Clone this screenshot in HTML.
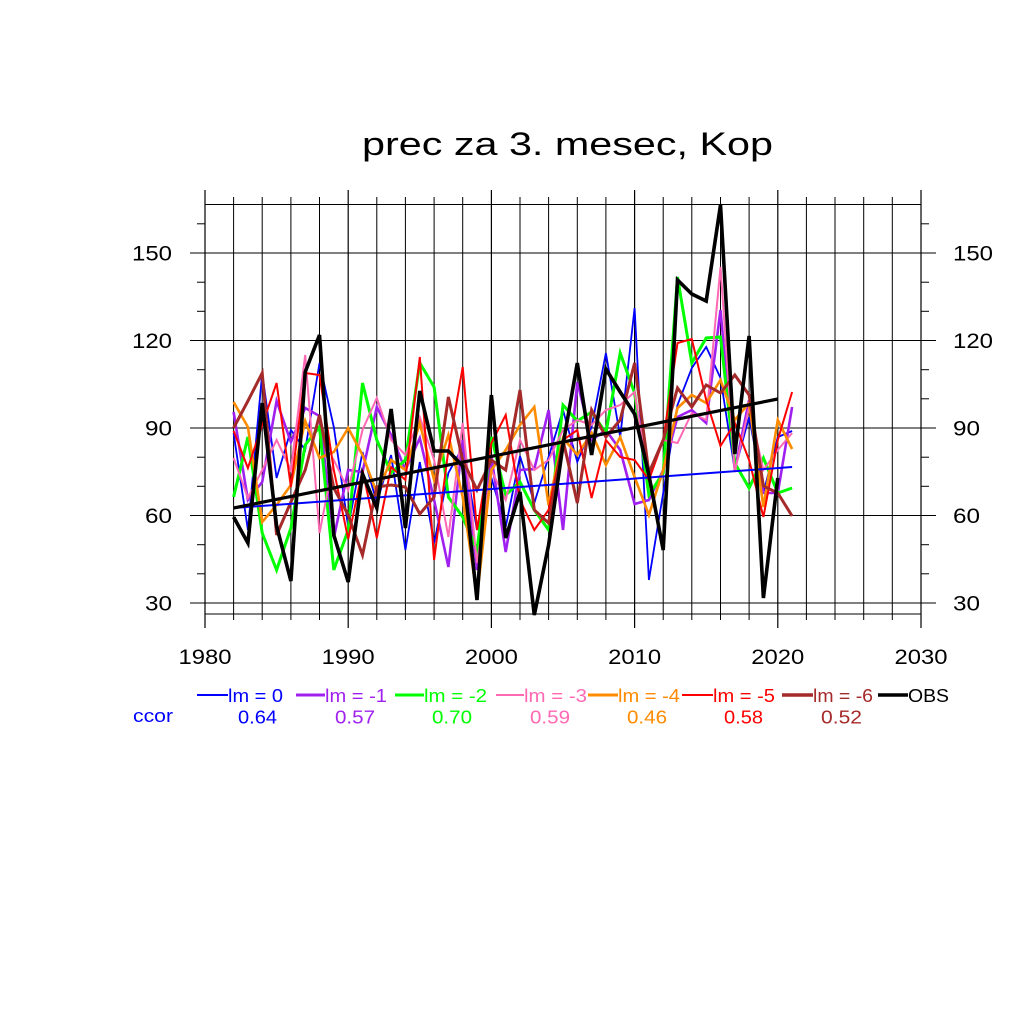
<!DOCTYPE html>
<html>
<head>
<meta charset="utf-8">
<style>
html,body{margin:0;padding:0;background:#fff;}
svg{display:block;}
text{font-family:"Liberation Sans",Arial,sans-serif;}
</style>
</head>
<body>
<svg width="1024" height="1024" viewBox="0 0 1024 1024" xmlns="http://www.w3.org/2000/svg">
<rect width="1024" height="1024" fill="#fff"/>

<!-- Title -->
<text x="362" y="155" font-size="32.5" textLength="411" lengthAdjust="spacingAndGlyphs" fill="#000">prec za 3. mesec, Kop</text>

<!-- minor vertical grid lines -->
<g stroke="#000" stroke-width="1" fill="none">
<line x1="233.6" y1="197" x2="233.6" y2="620"/>
<line x1="262.2" y1="197" x2="262.2" y2="620"/>
<line x1="290.9" y1="197" x2="290.9" y2="620"/>
<line x1="319.5" y1="197" x2="319.5" y2="620"/>
<line x1="376.8" y1="197" x2="376.8" y2="620"/>
<line x1="405.4" y1="197" x2="405.4" y2="620"/>
<line x1="434.1" y1="197" x2="434.1" y2="620"/>
<line x1="462.7" y1="197" x2="462.7" y2="620"/>
<line x1="520.0" y1="197" x2="520.0" y2="620"/>
<line x1="548.6" y1="197" x2="548.6" y2="620"/>
<line x1="577.3" y1="197" x2="577.3" y2="620"/>
<line x1="605.9" y1="197" x2="605.9" y2="620"/>
<line x1="663.2" y1="197" x2="663.2" y2="620"/>
<line x1="691.8" y1="197" x2="691.8" y2="620"/>
<line x1="720.5" y1="197" x2="720.5" y2="620"/>
<line x1="749.1" y1="197" x2="749.1" y2="620"/>
<line x1="806.4" y1="197" x2="806.4" y2="620"/>
<line x1="835.0" y1="197" x2="835.0" y2="620"/>
<line x1="863.7" y1="197" x2="863.7" y2="620"/>
<line x1="892.3" y1="197" x2="892.3" y2="620"/>
</g>
<!-- major vertical lines -->
<g stroke="#000" stroke-width="1.2" fill="none">
<line x1="205" y1="190" x2="205" y2="628"/>
<line x1="348.2" y1="190" x2="348.2" y2="628"/>
<line x1="491.4" y1="190" x2="491.4" y2="628"/>
<line x1="634.6" y1="190" x2="634.6" y2="628"/>
<line x1="777.8" y1="190" x2="777.8" y2="628"/>
<line x1="921" y1="190" x2="921" y2="628"/>
</g>
<!-- horizontal gridlines -->
<g stroke="#000" stroke-width="1.1" fill="none">
<line x1="190" y1="253" x2="936" y2="253"/>
<line x1="190" y1="340.5" x2="936" y2="340.5"/>
<line x1="190" y1="428" x2="936" y2="428"/>
<line x1="190" y1="515.5" x2="936" y2="515.5"/>
<line x1="190" y1="603" x2="936" y2="603"/>
<line x1="205" y1="204.5" x2="921" y2="204.5"/>
<line x1="205" y1="614" x2="921" y2="614"/>
</g>
<!-- minor y ticks -->
<g stroke="#000" stroke-width="1" fill="none">
<line x1="197" y1="223.8" x2="205" y2="223.8"/><line x1="921" y1="223.8" x2="929" y2="223.8"/>
<line x1="197" y1="282.2" x2="205" y2="282.2"/><line x1="921" y1="282.2" x2="929" y2="282.2"/>
<line x1="197" y1="311.3" x2="205" y2="311.3"/><line x1="921" y1="311.3" x2="929" y2="311.3"/>
<line x1="197" y1="369.7" x2="205" y2="369.7"/><line x1="921" y1="369.7" x2="929" y2="369.7"/>
<line x1="197" y1="398.8" x2="205" y2="398.8"/><line x1="921" y1="398.8" x2="929" y2="398.8"/>
<line x1="197" y1="457.2" x2="205" y2="457.2"/><line x1="921" y1="457.2" x2="929" y2="457.2"/>
<line x1="197" y1="486.3" x2="205" y2="486.3"/><line x1="921" y1="486.3" x2="929" y2="486.3"/>
<line x1="197" y1="544.7" x2="205" y2="544.7"/><line x1="921" y1="544.7" x2="929" y2="544.7"/>
<line x1="197" y1="573.8" x2="205" y2="573.8"/><line x1="921" y1="573.8" x2="929" y2="573.8"/>
</g>

<!-- y labels left -->
<g font-size="21" fill="#000" text-anchor="end">
<text x="172" y="260.5" textLength="40" lengthAdjust="spacingAndGlyphs">150</text>
<text x="172" y="348" textLength="40" lengthAdjust="spacingAndGlyphs">120</text>
<text x="172" y="435.5" textLength="27" lengthAdjust="spacingAndGlyphs">90</text>
<text x="172" y="523" textLength="27" lengthAdjust="spacingAndGlyphs">60</text>
<text x="172" y="610.5" textLength="27" lengthAdjust="spacingAndGlyphs">30</text>
</g>
<!-- y labels right -->
<g font-size="21" fill="#000">
<text x="953" y="260.5" textLength="40" lengthAdjust="spacingAndGlyphs">150</text>
<text x="953" y="348" textLength="40" lengthAdjust="spacingAndGlyphs">120</text>
<text x="953" y="435.5" textLength="27" lengthAdjust="spacingAndGlyphs">90</text>
<text x="953" y="523" textLength="27" lengthAdjust="spacingAndGlyphs">60</text>
<text x="953" y="610.5" textLength="27" lengthAdjust="spacingAndGlyphs">30</text>
</g>
<!-- x labels -->
<g font-size="21" fill="#000">
<text x="178.5" y="664" textLength="53" lengthAdjust="spacingAndGlyphs">1980</text>
<text x="321.7" y="664" textLength="53" lengthAdjust="spacingAndGlyphs">1990</text>
<text x="464.9" y="664" textLength="53" lengthAdjust="spacingAndGlyphs">2000</text>
<text x="608.1" y="664" textLength="53" lengthAdjust="spacingAndGlyphs">2010</text>
<text x="751.3" y="664" textLength="53" lengthAdjust="spacingAndGlyphs">2020</text>
<text x="894.5" y="664" textLength="53" lengthAdjust="spacingAndGlyphs">2030</text>
</g>

<!-- data series -->
<g fill="none" stroke-linejoin="miter" stroke-miterlimit="4">
<polyline stroke="#0000FF" stroke-width="1.8" points="233.6,433 247.9,530 262.2,373 276.6,478 290.9,430 305.2,450 319.5,363 333.8,427 348.2,527 362.5,452 376.8,503 391.1,455 405.4,550 419.8,462 434.1,543 448.4,473 462.7,447 477,530 491.4,478 505.7,527 520,456 534.3,503 548.6,457 563,410 577.3,462 591.6,427 605.9,353 620.2,437 634.6,308 648.9,580 663.2,493 677.5,405 691.8,368 706.2,347 720.5,378 734.8,470 749.1,417 763.4,493 777.8,437 792.1,431"/>
<polyline stroke="#A020F0" stroke-width="2.6" points="233.6,412 247.9,500 262.2,482 276.6,401 290.9,442 305.2,408 319.5,416 333.8,538 348.2,470 362.5,472 376.8,407 391.1,435 405.4,470 419.8,438 434.1,500 448.4,567 462.7,440 477,570 491.4,457 505.7,552 520,470 534.3,469 548.6,410 563,530 577.3,382 591.6,440 605.9,430 620.2,450 634.6,504 648.9,500 663.2,470 677.5,417 691.8,410 706.2,423 720.5,310 734.8,470 749.1,400 763.4,493 777.8,493 792.1,407"/>
<polyline stroke="#00FF00" stroke-width="3" points="233.6,497 247.9,437 262.2,533 276.6,570 290.9,528 305.2,445 319.5,427 333.8,570 348.2,530 362.5,383 376.8,440 391.1,473 405.4,460 419.8,363 434.1,387 448.4,497 462.7,517 477,550 491.4,437 505.7,495 520,482 534.3,510 548.6,530 563,405 577.3,421 591.6,412 605.9,433 620.2,353 634.6,393 648.9,495 663.2,473 677.5,277 691.8,363 706.2,338 720.5,337 734.8,463 749.1,488 763.4,458 777.8,493 792.1,488"/>
<polyline stroke="#FF69B4" stroke-width="2" points="233.6,458 247.9,498 262.2,470 276.6,440 290.9,470 305.2,355 319.5,533 333.8,460 348.2,490 362.5,430 376.8,398 391.1,440 405.4,455 419.8,417 434.1,460 448.4,537 462.7,423 477,563 491.4,470 505.7,500 520,440 534.3,470 548.6,460 563,430 577.3,420 591.6,425 605.9,410 620.2,405 634.6,392 648.9,480 663.2,440 677.5,443 691.8,413 706.2,420 720.5,267 734.8,472 749.1,407 763.4,470 777.8,450 792.1,433"/>
<polyline stroke="#FF8C00" stroke-width="2.6" points="233.6,402 247.9,427 262.2,522 276.6,505 290.9,485 305.2,421 319.5,458 333.8,452 348.2,428 362.5,455 376.8,493 391.1,460 405.4,470 419.8,423 434.1,480 448.4,435 462.7,497 477,597 491.4,470 505.7,450 520,425 534.3,407 548.6,505 563,438 577.3,455 591.6,433 605.9,465 620.2,437 634.6,477 648.9,515 663.2,470 677.5,408 691.8,395 706.2,403 720.5,380 734.8,420 749.1,403 763.4,507 777.8,420 792.1,449"/>
<polyline stroke="#FF0000" stroke-width="2" points="233.6,431 247.9,468 262.2,425 276.6,383 290.9,487 305.2,373 319.5,375 333.8,470 348.2,539 362.5,470 376.8,538 391.1,467 405.4,480 419.8,357 434.1,560 448.4,450 462.7,367 477,530 491.4,443 505.7,415 520,500 534.3,530 548.6,510 563,440 577.3,430 591.6,498 605.9,440 620.2,457 634.6,460 648.9,480 663.2,440 677.5,343 691.8,339 706.2,400 720.5,446 734.8,423 749.1,460 763.4,517 777.8,440 792.1,392"/>
<polyline stroke="#A52A2A" stroke-width="3" points="233.6,428 247.9,401 262.2,373 276.6,535 290.9,502 305.2,470 319.5,415 333.8,488 348.2,515 362.5,555 376.8,487 391.1,485 405.4,487 419.8,514 434.1,497 448.4,397 462.7,460 477,490 491.4,460 505.7,470 520,390 534.3,510 548.6,523 563,440 577.3,503 591.6,410 605.9,437 620.2,420 634.6,363 648.9,473 663.2,440 677.5,388 691.8,407 706.2,385 720.5,393 734.8,375 749.1,395 763.4,486 777.8,493 792.1,516"/>
<line x1="233.6" y1="508" x2="792.1" y2="467" stroke="#0000FF" stroke-width="2"/>
<polyline stroke="#000" stroke-width="3.6" points="233.6,517 247.9,543 262.2,403 276.6,526 290.9,581 305.2,372 319.5,335 333.8,535 348.2,582 362.5,474 376.8,508 391.1,409 405.4,528 419.8,391 434.1,451 448.4,451 462.7,466 477,600 491.4,395 505.7,538 520,492 534.3,615 548.6,545 563,445 577.3,363 591.6,455 605.9,369 620.2,392 634.6,414 648.9,475 663.2,550 677.5,280 691.8,294 706.2,301 720.5,205 734.8,454 749.1,336 763.4,598 777.8,478"/>
<line x1="233.6" y1="508" x2="777.8" y2="399" stroke="#000" stroke-width="3.2"/>
</g>

<!-- legend -->
<g fill="none">
<line x1="197" y1="695" x2="228" y2="695" stroke="#0000FF" stroke-width="2"/>
<line x1="296" y1="695" x2="325" y2="695" stroke="#A020F0" stroke-width="3"/>
<line x1="395" y1="695" x2="424" y2="695" stroke="#00FF00" stroke-width="3"/>
<line x1="496" y1="695" x2="524" y2="695" stroke="#FF69B4" stroke-width="2"/>
<line x1="588" y1="695" x2="618" y2="695" stroke="#FF8C00" stroke-width="3"/>
<line x1="682" y1="695" x2="713" y2="695" stroke="#FF0000" stroke-width="2"/>
<line x1="782" y1="695" x2="813" y2="695" stroke="#A52A2A" stroke-width="3.5"/>
<line x1="878" y1="695" x2="908" y2="695" stroke="#000" stroke-width="3.5"/>
</g>
<g font-size="18.5">
<text x="228" y="702" fill="#0000FF" textLength="55" lengthAdjust="spacingAndGlyphs">lm = 0</text>
<text x="325" y="702" fill="#A020F0" textLength="62" lengthAdjust="spacingAndGlyphs">lm = -1</text>
<text x="424" y="702" fill="#00FF00" textLength="63" lengthAdjust="spacingAndGlyphs">lm = -2</text>
<text x="524" y="702" fill="#FF69B4" textLength="63" lengthAdjust="spacingAndGlyphs">lm = -3</text>
<text x="618" y="702" fill="#FF8C00" textLength="62" lengthAdjust="spacingAndGlyphs">lm = -4</text>
<text x="713" y="702" fill="#FF0000" textLength="62" lengthAdjust="spacingAndGlyphs">lm = -5</text>
<text x="813" y="702" fill="#A52A2A" textLength="60" lengthAdjust="spacingAndGlyphs">lm = -6</text>
<text x="908" y="702" fill="#000" textLength="41" lengthAdjust="spacingAndGlyphs">OBS</text>

<text x="133" y="722" fill="#0000FF" textLength="40" lengthAdjust="spacingAndGlyphs">ccor</text>
<text x="238" y="723.3" fill="#0000FF" textLength="39" lengthAdjust="spacingAndGlyphs">0.64</text>
<text x="335" y="723.3" fill="#A020F0" textLength="40" lengthAdjust="spacingAndGlyphs">0.57</text>
<text x="432" y="723.3" fill="#00FF00" textLength="40" lengthAdjust="spacingAndGlyphs">0.70</text>
<text x="530" y="723.3" fill="#FF69B4" textLength="40" lengthAdjust="spacingAndGlyphs">0.59</text>
<text x="627" y="723.3" fill="#FF8C00" textLength="40" lengthAdjust="spacingAndGlyphs">0.46</text>
<text x="724" y="723.3" fill="#FF0000" textLength="39" lengthAdjust="spacingAndGlyphs">0.58</text>
<text x="821" y="723.3" fill="#A52A2A" textLength="41" lengthAdjust="spacingAndGlyphs">0.52</text>
</g>
</svg>
</body>
</html>
